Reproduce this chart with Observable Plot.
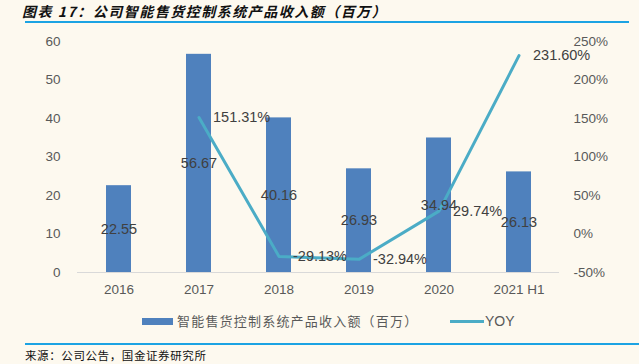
<!DOCTYPE html>
<html>
<head>
<meta charset="utf-8">
<script src="https://cdn.jsdelivr.net/npm/d3@7"></script>
<script src="https://cdn.jsdelivr.net/npm/@observablehq/plot@0.6"></script>
<style>
  html, body { margin: 0; padding: 0; background: #FDF9EF; }
  body { width: 639px; height: 364px; position: relative; overflow: hidden; font-family: "Liberation Sans", Arial, sans-serif; }
  .title { position: absolute; left: 22px; top: 1px; font-family: "Noto Sans CJK SC", sans-serif; font-weight: bold; font-style: italic; font-size: 14px; letter-spacing: 1.5px; color: #111; white-space: nowrap; }
  .rule { position: absolute; height: 2px; background: #1CA3E3; }
  #chart { position: absolute; left: 0; top: 22px; }
  .legend { position: absolute; top: 312px; left: 0; width: 639px; height: 18px; }
  .sw { position: absolute; }
  .lt { position: absolute; top: 0; font-size: 13.5px; color: #595959; white-space: nowrap; line-height: 18px; }
  .source { position: absolute; left: 25px; top: 347px; font-family: "Noto Sans CJK SC", sans-serif; font-size: 11.5px; letter-spacing: 0.6px; color: #111; white-space: nowrap; }
</style>
</head>
<body>
<div class="title">图表 17：公司智能售货控制系统产品收入额（百万）</div>
<div class="rule" style="left:25px; top:21px; width:604px;"></div>
<div id="chart"></div>
<div class="legend">
  <div class="sw" style="left:142px; top:6px; width:31px; height:7px; background:#4F81BD;"></div>
  <div class="lt" style="left:177px; font-family:'Noto Sans CJK SC',sans-serif; font-size:13px; letter-spacing:1.2px;">智能售货控制系统产品收入额（百万）</div>
  <div class="sw" style="left:450px; top:8px; width:34px; height:3px; background:#4BACC6;"></div>
  <div class="lt" style="left:485px; font-size:14px;">YOY</div>
</div>
<div class="rule" style="left:25px; top:343px; width:614px;"></div>
<div class="source">来源：公司公告，国金证券研究所</div>
<script>
const categories = ["2016", "2017", "2018", "2019", "2020", "2021 H1"];
const revenue = [22.55, 56.67, 40.16, 26.93, 34.94, 26.13];
const yoy = [null, 151.31, -29.13, -32.94, 29.74, 231.60];
const leftTicks = [0, 10, 20, 30, 40, 50, 60];
const rightTicks = [-50, 0, 50, 100, 150, 200, 250];

// map YOY (%) onto the left scale: [-50, 250] -> [0, 60]
const toLeft = v => (v + 50) / 300 * 60;

const bars = categories.map((c, i) => ({cat: c, value: revenue[i]}));
const yoyData = categories.map((c, i) => ({cat: c, yoy: yoy[i]})).filter(d => d.yoy !== null);

const chart = Plot.plot({
  width: 639,
  height: 283,
  marginTop: 19,
  marginBottom: 33,
  marginLeft: 77,
  marginRight: 80,
  style: {background: "transparent", fontFamily: "Liberation Sans, Arial, sans-serif", fontSize: "13.5px", color: "#595959"},
  x: {domain: categories, paddingInner: 0.69, paddingOuter: 0.345, label: null},
  y: {domain: [0, 60], label: null},
  marks: [
    Plot.axisY({ticks: leftTicks, tickSize: 0, tickPadding: 17, label: null, fill: "#595959", fontSize: 13.5}),
    Plot.axisY({anchor: "right", ticks: rightTicks.map(toLeft), tickFormat: (d, i) => rightTicks[i] + "%", tickSize: 0, tickPadding: 14, label: null, fill: "#595959", fontSize: 13.5, textAnchor: "start"}),
    Plot.axisX({tickSize: 0, tickPadding: 12, label: null, fill: "#595959", fontSize: 13.5}),
    Plot.barY(bars, {x: "cat", y: "value", fill: "#4F81BD"}),
    Plot.ruleY([0], {stroke: "#D9D9D9", strokeWidth: 1}),
    Plot.lineY(yoyData, {x: "cat", y: d => toLeft(d.yoy), stroke: "#4BACC6", strokeWidth: 3}),
    Plot.text(bars, {x: "cat", y: d => d.value / 2, text: d => d.value.toFixed(2), fill: "#404040", fontSize: 14.5}),
    Plot.text(yoyData, {x: "cat", y: d => toLeft(d.yoy), text: d => d.yoy.toFixed(2) + "%", textAnchor: "start", dx: 14, fill: "#404040", fontSize: 14.5})
  ]
});
document.getElementById("chart").appendChild(chart);
</script>
</body>
</html>
